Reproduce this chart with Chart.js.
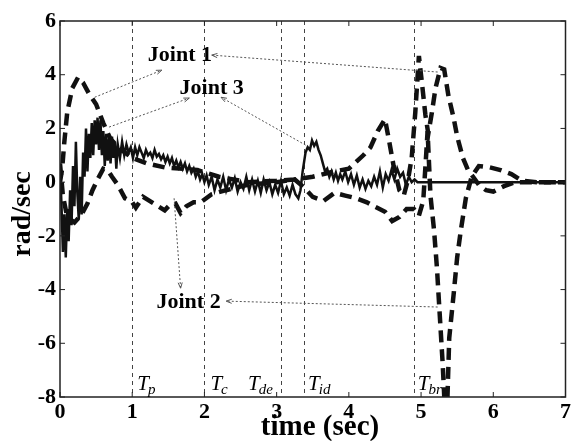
<!DOCTYPE html>
<html>
<head>
<meta charset="utf-8">
<script src="https://cdn.jsdelivr.net/npm/chart.js@4"></script>
<style>
html,body{margin:0;padding:0;background:#fff;}
#wrap{width:573px;height:441px;position:relative;}
</style>
</head>
<body>
<div id="wrap"><canvas id="c" width="573" height="441"></canvas></div>
<script>
// ---- data ----
const xTicks = [0,1,2,3,4,5,6,7];
const yTicks = [-8,-6,-4,-2,0,2,4,6];

const joint1X = [0,0.03,0.06,0.1,0.17,0.25,0.32,0.4,0.5,0.6,0.7,0.85,1.0,1.2,1.45,1.7,1.9,2.2,2.6,3.0,3.25,3.5,3.8,4.0,4.2,4.3,4.4,4.5,4.56,4.62,4.7,4.76,4.82,4.87,4.92,4.97,5.02,5.06,5.1,5.15,5.2,5.27,5.32,5.38,5.45,5.5,5.58,5.65,5.72,5.8,5.9,6.0,6.15,6.3,6.5,7.0];
const joint1Y = [0,0.5,1.5,2.6,3.5,3.9,3.7,3.3,2.9,2.2,1.6,1.2,0.9,0.7,0.55,0.5,0.45,0.2,0.0,0.05,0.1,0.2,0.4,0.5,1.0,1.3,1.9,2.35,1.5,0.6,-0.3,-0.5,0.1,0.9,2.6,4.7,3.5,2.5,1.8,2.6,3.5,4.25,4.2,3.2,2.4,1.7,0.9,0.45,0.2,-0.1,-0.3,-0.35,-0.15,0.0,0.0,0.0];

const joint2X = [0,0.04,0.1,0.2,0.3,0.38,0.45,0.52,0.6,0.66,0.72,0.8,0.9,1.0,1.05,1.15,1.3,1.45,1.52,1.6,1.67,1.75,1.85,1.95,2.1,2.3,2.6,3.0,3.25,3.38,3.5,3.65,3.8,3.95,4.1,4.25,4.35,4.5,4.6,4.7,4.8,4.9,4.97,5.03,5.07,5.09,5.13,5.18,5.22,5.26,5.3,5.33,5.36,5.39,5.45,5.5,5.55,5.62,5.7,5.8,5.95,6.1,6.25,6.4,6.6,7.0];
const joint2Y = [0.7,-0.5,-1.3,-1.5,-1.2,-0.8,-0.3,0.1,0.5,0.45,0.2,-0.1,-0.6,-0.75,-0.95,-0.55,-0.8,-1.05,-0.85,-0.8,-1.15,-0.9,-0.75,-0.75,-0.45,-0.3,-0.1,0.0,0.1,-0.2,-0.55,-0.7,-0.4,-0.5,-0.6,-0.75,-0.9,-1.1,-1.45,-1.3,-1.0,-1.0,-1.25,-0.7,1.0,1.9,-0.5,-1.8,-3.2,-5.0,-6.8,-8.5,-8.5,-5.8,-4.2,-2.8,-1.8,-0.6,0.2,0.6,0.55,0.45,0.3,0.05,0.0,0.0];

const joint3X = [0,0.02,0.04,0.06,0.08,0.10,0.12,0.14,0.16,0.18,0.20,0.22,0.24,0.26,0.28,0.30,0.32,0.34,0.36,0.38,0.40,0.42,0.44,0.46,0.48,0.50,0.52,0.54,0.56,0.58,0.60,0.62,0.64,0.66,0.68,0.70,0.72,0.74,0.76,0.78,0.80,0.83,0.86,0.89,0.92,0.95,0.98,1.01,1.04,1.07,1.10,1.13,1.16,1.19,1.22,1.25,1.28,1.31,1.34,1.37,1.40,1.43,1.46,1.49,1.52,1.55,1.58,1.61,1.64,1.67,1.70,1.73,1.76,1.79,1.82,1.85,1.88,1.91,1.94,1.97,2.00,2.03,2.06,2.10,2.14,2.18,2.22,2.26,2.30,2.34,2.38,2.42,2.46,2.50,2.54,2.58,2.62,2.66,2.70,2.74,2.78,2.82,2.86,2.90,2.94,2.98,3.02,3.06,3.10,3.14,3.18,3.22,3.26,3.30,3.33,3.36,3.40,3.43,3.46,3.49,3.52,3.55,3.58,3.61,3.64,3.67,3.70,3.73,3.76,3.79,3.82,3.85,3.88,3.91,3.95,3.99,4.03,4.07,4.11,4.15,4.19,4.23,4.27,4.31,4.35,4.39,4.43,4.47,4.51,4.55,4.59,4.63,4.67,4.71,4.75,4.79,4.83,4.87,4.91,4.95,5.10,7.00];
const joint3Y = [0.6,-0.8,-2.6,-1.2,-2.8,-1.0,-2.2,-0.3,-1.6,0.6,-0.9,1.5,-0.4,-1.4,0.2,-1.2,1.1,0.2,2.0,0.4,1.8,0.9,2.2,1.0,2.3,1.4,2.4,1.2,2.3,1.0,1.9,0.6,1.8,0.8,1.6,0.7,1.7,0.9,1.5,0.5,1.4,0.9,1.5,1.0,1.4,1.1,1.3,0.9,1.3,1.0,1.3,1.1,0.9,1.2,1.0,1.1,0.9,1.2,0.95,1.05,0.85,1.0,0.75,0.95,0.7,0.9,0.6,0.8,0.55,0.75,0.5,0.7,0.4,0.6,0.35,0.5,0.2,0.4,0.1,0.3,0.0,0.25,-0.1,0.2,-0.3,0.1,-0.2,0.2,-0.3,0.1,-0.2,0.15,-0.35,0.0,-0.25,0.2,-0.3,0.1,-0.35,0.05,-0.4,0.1,-0.3,0.0,-0.45,-0.1,-0.4,0.05,-0.45,-0.2,-0.5,-0.1,-0.45,-0.6,-0.3,0.4,1.1,1.3,1.2,1.55,1.35,1.5,1.2,1.0,0.7,0.4,0.5,0.2,0.4,0.1,0.35,0.05,0.3,0.1,0.4,0.0,0.3,-0.1,0.25,-0.2,0.1,-0.25,0.05,-0.15,0.2,-0.1,0.4,-0.2,0.3,0.05,0.45,0.1,0.5,0.2,0.35,-0.1,0.2,0.0,0.1,0.0,0.0,0.0];

const eventTimes = [1, 2, 3.06, 3.38, 4.9];
const eventMain = ['T','T','T','T','T'];
const eventSub = ['p','c','de','id','br'];

const annoLabels = ['Joint 1','Joint 3','Joint 2'];

// ---- build ----
function pts(xs, ys){ return xs.map((x,i)=>({x:x, y:ys[i]})); }

const FONT = '"Liberation Serif", "DejaVu Serif", serif';

const overlay = {
  id:'overlay',
  beforeDatasetsDraw(chart){
    const {ctx, chartArea:a, scales:{x, y}} = chart;
    ctx.save();
    ctx.strokeStyle = '#444'; ctx.lineWidth = 1; ctx.setLineDash([4,4]);
    eventTimes.forEach(t=>{
      const px = Math.round(x.getPixelForValue(t))+0.5;
      ctx.beginPath(); ctx.moveTo(px, a.top); ctx.lineTo(px, a.bottom); ctx.stroke();
    });
    ctx.restore();
  },
  afterDatasetsDraw(chart){
    const {ctx, chartArea:a, scales:{x, y}} = chart;
    ctx.save();
    ctx.setLineDash([]);
    ctx.strokeStyle = '#222'; ctx.lineWidth = 1.5;
    ctx.strokeRect(a.left, a.top, a.right-a.left, a.bottom-a.top);
    ctx.lineWidth = 1;
    xTicks.forEach(v=>{
      const px = x.getPixelForValue(v);
      ctx.beginPath(); ctx.moveTo(px, a.bottom); ctx.lineTo(px, a.bottom-5);
      ctx.moveTo(px, a.top); ctx.lineTo(px, a.top+5); ctx.stroke();
    });
    yTicks.forEach(v=>{
      const py = y.getPixelForValue(v);
      ctx.beginPath(); ctx.moveTo(a.left, py); ctx.lineTo(a.left+5, py);
      ctx.moveTo(a.right, py); ctx.lineTo(a.right-5, py); ctx.stroke();
    });
    ctx.fillStyle = '#000';
    const offs = [5, 6, -33, 4, 4];
    eventTimes.forEach((t,i)=>{
      const px = x.getPixelForValue(t) + offs[i];
      const base = a.bottom - 7;
      ctx.font = 'italic 21px ' + FONT;
      ctx.textAlign = 'left'; ctx.textBaseline = 'alphabetic';
      ctx.fillText(eventMain[i], px, base);
      const w = ctx.measureText(eventMain[i]).width;
      ctx.font = 'italic 15px ' + FONT;
      ctx.fillText(eventSub[i], px + w - 1, base + 4);
    });
    const lines = [
      [[0.48,3.16],[1.41,4.17]],
      [[5.23,4.1],[2.1,4.73]],
      [[0.68,2.05],[1.79,3.13]],
      [[3.4,1.38],[2.23,3.16]],
      [[1.58,-0.6],[1.67,-3.95]],
      [[5.23,-4.65],[2.3,-4.43]]
    ];
    ctx.strokeStyle = '#555'; ctx.lineWidth = 1;
    lines.forEach(l=>{
      const x0 = x.getPixelForValue(l[0][0]), y0 = y.getPixelForValue(l[0][1]);
      const x1 = x.getPixelForValue(l[1][0]), y1 = y.getPixelForValue(l[1][1]);
      ctx.setLineDash([2,2]);
      ctx.beginPath(); ctx.moveTo(x0,y0); ctx.lineTo(x1,y1); ctx.stroke();
      const ang = Math.atan2(y1-y0, x1-x0);
      ctx.setLineDash([]);
      ctx.beginPath();
      ctx.moveTo(x1 - 6*Math.cos(ang-0.35), y1 - 6*Math.sin(ang-0.35));
      ctx.lineTo(x1, y1);
      ctx.lineTo(x1 - 6*Math.cos(ang+0.35), y1 - 6*Math.sin(ang+0.35));
      ctx.stroke();
    });
    const annoPos = [[1.66,4.73],[2.1,3.5],[1.78,-4.47]];
    ctx.fillStyle = '#000';
    ctx.font = 'bold 22px ' + FONT;
    ctx.textAlign = 'center'; ctx.textBaseline = 'middle';
    annoLabels.forEach((t,i)=>{
      ctx.fillText(t, x.getPixelForValue(annoPos[i][0]), y.getPixelForValue(annoPos[i][1]));
    });
    ctx.font = 'bold 29px ' + FONT;
    ctx.textAlign = 'center'; ctx.textBaseline = 'middle';
    ctx.fillText('time (sec)', 320, 428);
    ctx.save();
    ctx.translate(23, 214);
    ctx.rotate(-Math.PI/2);
    ctx.font = 'bold 28px ' + FONT;
    ctx.fillText('rad/sec', 0, 0);
    ctx.restore();
    ctx.restore();
  }
};

new Chart(document.getElementById('c'), {
  type: 'line',
  data: {
    datasets: [
      {label:'Joint 3', data: pts(joint3X, joint3Y), borderColor:'#111', borderWidth:2.5, pointRadius:0, tension:0, fill:false},
      {label:'Joint 1', data: pts(joint1X, joint1Y), borderColor:'#111', borderWidth:4.5, borderDash:[12,7], pointRadius:0, tension:0, fill:false},
      {label:'Joint 2', data: pts(joint2X, joint2Y), borderColor:'#111', borderWidth:4.5, borderDash:[12,7], pointRadius:0, tension:0, fill:false}
    ]
  },
  options: {
    responsive:false, animation:false, devicePixelRatio:1,
    layout:{padding:{top:21, right:2, left:0, bottom:0}},
    plugins:{legend:{display:false}, tooltip:{enabled:false}},
    scales:{
      x:{type:'linear', min:0, max:7,
         afterFit(s){ s.height = 44; },
         afterBuildTicks(s){ s.ticks = xTicks.map(v=>({value:v})); },
         grid:{display:false, drawTicks:false}, border:{display:false},
         ticks:{color:'#000', padding:2, font:{family:FONT, size:22, weight:'bold'}}},
      y:{type:'linear', min:-8, max:6,
         afterFit(s){ s.width = 60; },
         afterBuildTicks(s){ s.ticks = yTicks.map(v=>({value:v})); },
         grid:{display:false, drawTicks:false}, border:{display:false},
         ticks:{color:'#000', padding:4, font:{family:FONT, size:22, weight:'bold'}}}
    }
  },
  plugins:[overlay]
});
</script>
</body>
</html>
